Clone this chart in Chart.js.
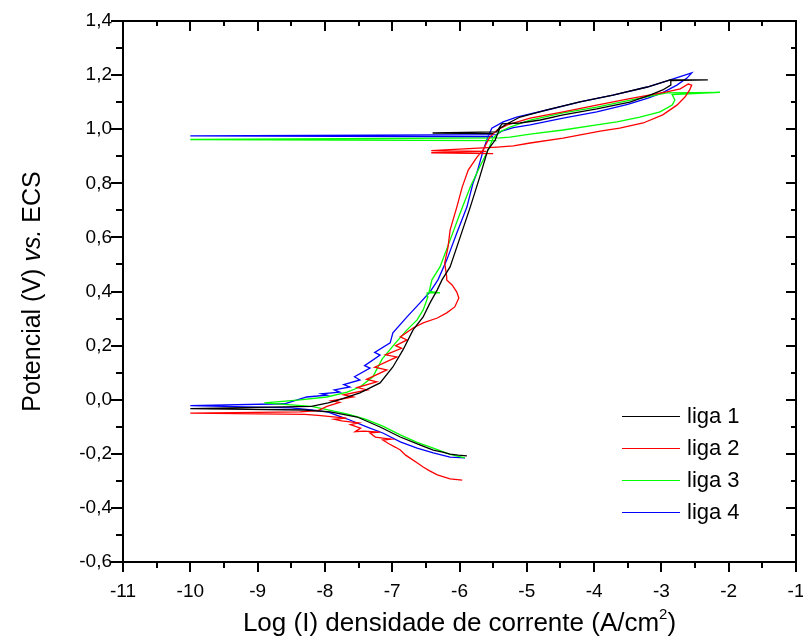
<!DOCTYPE html>
<html>
<head>
<meta charset="utf-8">
<script src="https://cdn.jsdelivr.net/npm/chart.js@4.4.1/dist/chart.umd.min.js"></script>
<style>
  html, body { margin: 0; padding: 0; background: #fff; }
  #wrap { width: 803px; height: 642px; }
</style>
</head>
<body>
<div id="wrap"><canvas id="chart" width="803" height="642"></canvas></div>
<script>
// [log(I), E] pairs, in scan order
const liga1 = [
  [-5.89,-0.208],[-6.02,-0.205],[-6.14,-0.201],[-6.25,-0.194],[-6.39,-0.186],[-6.59,-0.167],
  [-6.88,-0.138],[-7.18,-0.101],[-7.52,-0.064],[-7.92,-0.045],[-8.3,-0.038],[-10,-0.033],
  [-8.2,-0.025],[-7.95,-0.012],[-7.78,0.0],[-7.48,0.025],[-7.18,0.062],[-6.99,0.121],
  [-6.84,0.184],[-6.69,0.258],[-6.54,0.306],[-6.44,0.357],[-6.33,0.406],[-6.26,0.443],
  [-6.14,0.491],[-5.99,0.601],[-5.84,0.712],[-5.70,0.823],[-5.58,0.923],[-5.47,0.960],
  [-5.40,1.004],[-5.29,1.020],[-5.10,1.045],[-4.70,1.071],[-4.21,1.101],[-3.72,1.126],
  [-3.21,1.156],[-2.87,1.182],[-2.31,1.182],[-2.86,1.180],[-2.86,1.163],[-2.98,1.145],
  [-3.17,1.126],[-3.47,1.100],[-3.96,1.075],[-4.46,1.053],[-4.80,1.034],[-5.10,1.023],
  [-5.37,1.020],[-5.45,0.990],[-6.40,0.986],[-5.50,0.984]
];

const liga2 = [
  [-5.96,-0.297],[-6.14,-0.293],[-6.33,-0.278],[-6.45,-0.262],[-6.54,-0.249],[-6.62,-0.235],
  [-6.74,-0.215],[-6.80,-0.205],[-6.88,-0.186],[-6.95,-0.176],[-7.05,-0.163],[-7.14,-0.149],
  [-7.02,-0.146],[-7.25,-0.138],[-7.33,-0.123],[-7.18,-0.120],[-7.42,-0.116],[-7.55,-0.118],
  [-7.47,-0.105],[-7.62,-0.092],[-7.50,-0.086],[-7.75,-0.078],[-7.86,-0.072],[-7.68,-0.068],
  [-7.95,-0.062],[-8.10,-0.058],[-8.30,-0.054],[-10,-0.050],[-8.37,-0.045],[-8.10,-0.040],
  [-7.97,-0.025],[-7.78,-0.010],[-7.90,-0.004],[-7.58,0.010],[-7.72,0.018],[-7.37,0.036],
  [-7.52,0.045],[-7.23,0.066],[-7.38,0.075],[-7.08,0.110],[-7.26,0.120],[-6.93,0.158],
  [-7.10,0.166],[-6.86,0.190],[-6.95,0.200],[-6.78,0.221],[-6.88,0.232],[-6.69,0.265],
  [-6.54,0.284],[-6.33,0.302],[-6.19,0.321],[-6.07,0.343],[-6.01,0.376],[-6.04,0.398],
  [-6.11,0.424],[-6.19,0.443],[-6.19,0.454],[-6.22,0.505],[-6.17,0.565],[-6.14,0.627],
  [-6.04,0.712],[-5.96,0.786],[-5.87,0.849],[-5.74,0.897],[-5.65,0.923],[-5.55,0.971],
  [-5.44,0.997],[-5.29,1.016],[-4.95,1.041],[-4.46,1.064],[-3.96,1.089],[-3.47,1.113],
  [-2.92,1.138],[-2.72,1.149],[-2.60,1.167],[-2.55,1.163],[-2.58,1.145],[-2.65,1.119],
  [-2.77,1.089],[-2.98,1.053],[-3.27,1.023],[-3.62,1.004],[-3.91,0.993],[-4.46,0.967],
  [-4.95,0.949],[-5.20,0.938],[-5.44,0.934],[-6.42,0.921],[-5.60,0.918],[-6.42,0.913],
  [-5.50,0.910]
];

const liga3 = [
  [-5.92,-0.215],[-6.14,-0.202],[-6.39,-0.179],[-6.63,-0.158],[-6.88,-0.130],[-7.14,-0.098],
  [-7.40,-0.072],[-7.63,-0.055],[-7.90,-0.040],[-8.20,-0.025],[-8.90,-0.012],[-8.37,-0.001],
  [-7.97,0.010],[-7.67,0.028],[-7.48,0.047],[-7.29,0.084],[-7.15,0.150],[-6.95,0.210],
  [-6.78,0.258],[-6.63,0.295],[-6.54,0.332],[-6.47,0.380],[-6.48,0.395],[-6.29,0.395],
  [-6.45,0.400],[-6.41,0.443],[-6.29,0.491],[-6.14,0.590],[-5.99,0.690],[-5.84,0.786],
  [-5.70,0.860],[-5.59,0.915],[-5.50,0.967],[-5.40,0.990],[-5.25,1.008],[-4.95,1.034],
  [-4.46,1.060],[-3.96,1.082],[-3.44,1.108],[-2.92,1.134],[-2.13,1.136],[-2.84,1.128],
  [-2.80,1.108],[-2.84,1.089],[-3.02,1.064],[-3.32,1.045],[-3.66,1.027],[-3.96,1.016],
  [-4.46,0.997],[-4.95,0.982],[-5.25,0.971],[-5.40,0.968],[-10,0.962],[-5.45,0.958]
];

const liga4 = [
  [-5.92,-0.215],[-6.14,-0.212],[-6.39,-0.197],[-6.63,-0.179],[-6.88,-0.156],[-7.14,-0.123],
  [-7.37,-0.101],[-7.63,-0.075],[-7.80,-0.060],[-7.95,-0.046],[-8.20,-0.038],[-8.50,-0.030],
  [-10,-0.022],[-8.60,-0.015],[-8.27,0.010],[-7.97,0.017],[-8.05,0.022],[-7.78,0.028],
  [-7.86,0.036],[-7.63,0.047],[-7.72,0.056],[-7.48,0.073],[-7.56,0.085],[-7.33,0.117],
  [-7.41,0.126],[-7.18,0.165],[-7.26,0.175],[-7.03,0.210],[-6.99,0.247],[-6.78,0.306],
  [-6.59,0.357],[-6.44,0.398],[-6.32,0.443],[-6.19,0.516],[-6.04,0.616],[-5.89,0.712],
  [-5.80,0.800],[-5.74,0.840],[-5.65,0.920],[-5.58,0.970],[-5.52,1.004],[-5.35,1.027],
  [-5.15,1.045],[-4.70,1.071],[-4.21,1.101],[-3.72,1.126],[-3.21,1.156],[-2.87,1.182],
  [-2.55,1.208],[-2.62,1.189],[-2.77,1.163],[-2.98,1.135],[-3.20,1.115],[-3.50,1.092],
  [-3.96,1.064],[-4.46,1.041],[-4.95,1.016],[-5.20,1.006],[-5.37,0.993],[-5.45,0.980],
  [-10,0.975],[-5.50,0.972]
];

const seriesNames = ['liga 1', 'liga 2', 'liga 3', 'liga 4'];
const xTickLabels = ['-11','-10','-9','-8','-7','-6','-5','-4','-3','-2','-1'];
const yTickLabels = ['-0,6','-0,4','-0,2','0,0','0,2','0,4','0,6','0,8','1,0','1,2','1,4'];

const colors = ['#000000', '#ff0000', '#00ff00', '#0000ff'];
const FONT = '"Liberation Sans", Arial, sans-serif';

const datasets = [liga1, liga2, liga3, liga4].map((s, i) => ({
  label: seriesNames[i],
  data: s.map(p => ({ x: p[0], y: p[1] })),
  showLine: true,
  borderColor: colors[i],
  borderWidth: 1.3,
  pointRadius: 0,
  tension: 0
}));

// frame, minor ticks, axis titles and legend
const decor = {
  id: 'decor',
  afterDraw(chart) {
    const { ctx, chartArea: a, scales: { x, y } } = chart;
    ctx.save();
    ctx.strokeStyle = '#000';
    ctx.lineWidth = 2;
    ctx.strokeRect(a.left, a.top, a.right - a.left, a.bottom - a.top);

    ctx.beginPath();
    for (let i = 0; i <= 20; i++) {
      const px = Math.round(x.getPixelForValue(-11 + i * 0.5));
      const major = i % 2 === 0;
      ctx.moveTo(px, a.bottom); ctx.lineTo(px, a.bottom + (major ? 10 : 6));
      ctx.moveTo(px, a.top); ctx.lineTo(px, a.top + (major ? 10 : 5));
    }
    for (let i = 0; i <= 20; i++) {
      const py = Math.round(y.getPixelForValue(-0.6 + i * 0.1));
      const major = i % 2 === 0;
      ctx.moveTo(a.left, py); ctx.lineTo(a.left - (major ? 12 : 7), py);
      ctx.moveTo(a.right, py); ctx.lineTo(a.right - (major ? 10 : 5), py);
    }
    ctx.stroke();

    // x title with superscript
    ctx.fillStyle = '#000';
    ctx.textBaseline = 'alphabetic';
    ctx.textAlign = 'left';
    const big = '26px ' + FONT, small = '15px ' + FONT;
    const t1 = 'Log (I) densidade de corrente (A/cm', t2 = '2', t3 = ')';
    ctx.font = big; const w1 = ctx.measureText(t1).width, w3 = ctx.measureText(t3).width;
    ctx.font = small; const w2 = ctx.measureText(t2).width;
    let sx = (a.left + a.right) / 2 - (w1 + w2 + w3) / 2;
    const by = 631;
    ctx.font = big; ctx.fillText(t1, sx, by); sx += w1;
    ctx.font = small; ctx.fillText(t2, sx, by - 12); sx += w2;
    ctx.font = big; ctx.fillText(t3, sx, by);

    // y title with italic "vs."
    const parts = [['Potencial (V) ', ''], ['vs.', 'italic '], [' ECS', '']];
    ctx.save();
    ctx.translate(40, (a.top + a.bottom) / 2);
    ctx.rotate(-Math.PI / 2);
    let total = 0;
    parts.forEach(p => { ctx.font = p[1] + '25px ' + FONT; total += ctx.measureText(p[0]).width; });
    let tx = -total / 2;
    parts.forEach(p => { ctx.font = p[1] + '25px ' + FONT; ctx.fillText(p[0], tx, 0); tx += ctx.measureText(p[0]).width; });
    ctx.restore();

    // legend
    ctx.font = '22px ' + FONT;
    ctx.textBaseline = 'middle';
    chart.data.datasets.forEach((ds, i) => {
      const ly = 416 + i * 32;
      ctx.strokeStyle = ds.borderColor;
      ctx.lineWidth = 1;
      ctx.beginPath();
      ctx.moveTo(622, ly + 0.5); ctx.lineTo(680, ly + 0.5);
      ctx.stroke();
      ctx.fillStyle = '#000';
      ctx.fillText(ds.label, 687, ly + 1);
    });
    ctx.restore();
  }
};

const noEdgePadding = s => {
  s.paddingLeft = 0; s.paddingRight = 0; s.paddingTop = 0; s.paddingBottom = 0;
};

new Chart(document.getElementById('chart'), {
  type: 'scatter',
  data: { datasets },
  plugins: [decor],
  options: {
    responsive: false,
    animation: false,
    layout: { padding: { top: 21, right: 7, left: 0, bottom: 0 } },
    plugins: { legend: { display: false }, tooltip: { enabled: false } },
    scales: {
      x: {
        type: 'linear', min: -11, max: -1,
        grid: { display: false, drawTicks: false },
        border: { display: false },
        ticks: {
          stepSize: 1, padding: 18, color: '#000', autoSkip: false, maxRotation: 0,
          font: { size: 19, family: FONT },
          callback: (v, i) => xTickLabels[i]
        },
        afterFit: s => { s.height = 80; noEdgePadding(s); }
      },
      y: {
        type: 'linear', min: -0.6, max: 1.4,
        grid: { display: false, drawTicks: false },
        border: { display: false },
        ticks: {
          stepSize: 0.2, padding: 11, color: '#000', autoSkip: false,
          font: { size: 19, family: FONT },
          callback: (v, i) => yTickLabels[i]
        },
        afterFit: s => { s.width = 123; noEdgePadding(s); }
      }
    }
  }
});
</script>
</body>
</html>
